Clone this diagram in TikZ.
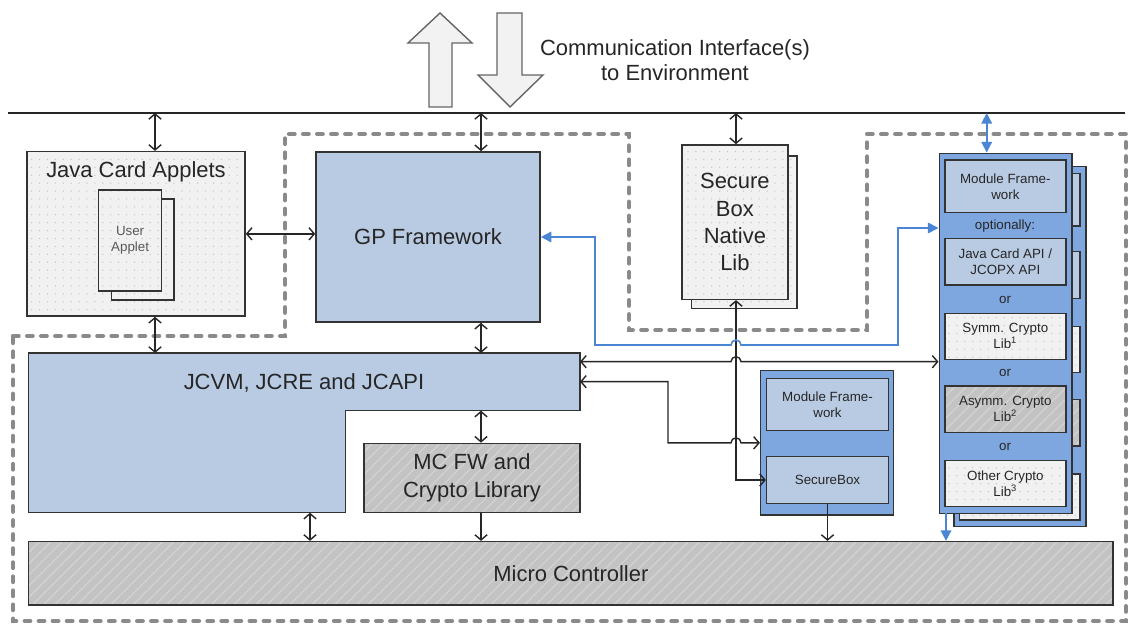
\documentclass[tikz,border=0pt]{standalone}
\usepackage{fontspec}
\setmainfont{Liberation Sans}
\usetikzlibrary{arrows.meta,patterns.meta}
\definecolor{gpblue}{HTML}{B9CBE3}
\definecolor{modblue}{HTML}{7FA7DF}
\definecolor{arrblue}{HTML}{4A86D4}
\definecolor{hatchgray}{HTML}{C3C3C3}
\definecolor{hatchline}{HTML}{D3D3D3}
\definecolor{dotgray}{HTML}{F1F1F1}
\definecolor{dotdark}{HTML}{C4C4C4}
\definecolor{dashgray}{HTML}{8A8A8A}
\newcommand\bigfont{\fontsize{12.5}{15.6}\selectfont}
\newcommand\smallfont{\fontsize{7.6}{9.1}\selectfont}
\tikzset{
  box/.style={draw=black!80, line width=0.9pt, inner sep=0pt, align=center, text=black!85},
  boxsize/.style 2 args={minimum width=#1mm, minimum height=#2mm},
  blu/.style={box, fill=gpblue},
  modbox/.style={box, fill=modblue},
  hatch/.style={box, preaction={fill=hatchgray}, pattern={Lines[angle=45,distance=4.5pt,line width=0.7pt]}, pattern color=hatchline},
  dotbox/.style={box, preaction={fill=dotgray}, pattern={Dots[distance=4.5pt,radius=0.4pt]}, pattern color=dotdark},
  link/.style={draw=black!85, line width=0.8pt, >={Straight Barb[length=3pt,width=7pt]}},
  blink/.style={draw=arrblue, line width=0.9pt, >={Triangle[length=6pt,width=6pt]}},
  border/.style={draw=dashgray, line width=2.4pt, dash pattern=on 3.2pt off 4.8pt, line cap=round},
  blockarrow/.style={fill=black!5, draw=black!60, line width=0.8pt},
}
\begin{document}
\begin{tikzpicture}[x=0.2mm,y=-0.2mm,font=\bigfont]
\useasboundingbox (0,0) rectangle (1130,626);
% secure part of the card
\draw[border] (13,336) -- (285,336) -- (285,134) -- (629,134) -- (629,330) -- (867,330)
  -- (867,134) -- (1126,134) -- (1126,621) -- (13,621) -- cycle;
% interface to the outside
\coordinate (tl) at (8,113);
\coordinate (tr) at (1125,113);
\draw[link] (tl) -- (tr);
\draw[blockarrow] (429,107) -- (429,43) -- (408,43) -- (440,13) -- (472,43) -- (452,43) -- (452,107) -- cycle;
\draw[blockarrow] (497,13) -- (522,13) -- (522,75) -- (543,75) -- (510,107) -- (478,75) -- (497,75) -- cycle;
\node[align=center, text=black!85, font=\fontsize{12.5}{14.3}\selectfont] (comm) at (675,60) {Communication Interface(s)\\to Environment};
\coordinate (t1) at (155,113);
\coordinate (t2) at (481,113);
\coordinate (t3) at (736,113);
\coordinate (t4) at (986.7,113);

% applets
\node[dotbox, boxsize={43.64}{32.86}] (ja) at (135.9,233.85) {};
\node[text=black!85] (jat) at (136,172) {Java Card Applets};
\draw[dotbox] (111.7,199) rectangle (174,300);
\node[dotbox, text=black!65, font=\smallfont, boxsize={12.56}{20.2}] (ua) at (130.1,240.5) {User\\Applet};
\node[blu, boxsize={44.8}{34}] (gp) at (428,237) {GP Framework};

% native lib
\draw[dotbox] (691.6,156) rectangle (797,308.7);
\node[dotbox, boxsize={21.24}{30.86}] (nl) at (734.9,222.15) {Secure\\Box\\Native\\Lib};

% runtime and platform
\coordinate (vmA) at (28.7,353);
\coordinate (vmB) at (580,353);
\coordinate (vmC) at (580,410.7);
\coordinate (vmD) at (345.6,410.7);
\coordinate (vmE) at (345.6,512.7);
\coordinate (vmF) at (28.7,512.7);
\draw[blu] (vmA) -- (vmB) -- (vmC) -- (vmD) -- (vmE) -- (vmF) -- cycle;
\node[text=black!85] (jcvm) at (304,382.7) {JCVM, JCRE and JCAPI};
\node[hatch, boxsize={43.2}{13.88}] (mc) at (472,478) {MC FW and\\Crypto Library};
\node[hatch, boxsize={216.86}{12.66}] (mcu) at (570.85,573.35) {Micro Controller};

% SecureBox module
\node[modbox, boxsize={26.52}{28.86}] (sbo) at (827,442.85) {};
\node[blu, font=\smallfont, boxsize={24.32}{10.48}] (sbm) at (827.5,404.5) {Module Frame-\\work};
\node[blu, font=\smallfont, boxsize={24.32}{9.32}] (sb) at (827.5,480) {SecureBox};

% crypto module column, copy behind
\begin{scope}[shift={(14.5,13.3)}]
  \draw[modbox] (939.3,153.3) rectangle (1071.7,513.3);
  \foreach \ya/\yb/\st in {160/212.7/blu, 238.3/285/blu, 313.3/359.3/dotbox, 386/432.7/hatch, 460.7/506.7/dotbox}
    \draw[\st] (945,\ya) rectangle (1065.7,\yb);
\end{scope}
\node[modbox, boxsize={26.48}{72}] (col) at (1005.5,333.3) {};
\foreach \n/\cy/\h/\st/\txt in {cmf/186.35/10.54/blu/{Module Frame-\\work},
    capi/261.65/9.34/blu/{Java Card API /\\JCOPX API},
    csym/336.3/9.2/dotbox/{Symm. Crypto\\Lib\textsuperscript{1}},
    casym/409.35/9.34/hatch/{Asymm. Crypto\\Lib\textsuperscript{2}},
    coth/483.7/9.2/dotbox/{Other Crypto\\Lib\textsuperscript{3}}}
  \node[\st, font=\smallfont, boxsize={24.14}{\h}] (\n) at (1005.35,\cy) {\txt};
\node[font=\smallfont, text=black!85] (opt) at (1005,226) {optionally:};
\foreach \y/\n in {300/or1, 373.3/or2, 446.7/or3}
  \node[font=\smallfont, text=black!85] (\n) at (1005,\y) {or};

% connectors
\draw[link,<->] (t1) -- (t1 |- ja.north);
\draw[link,<->] (t2) -- (t2 |- gp.north);
\draw[link,<->] (t3) -- (t3 |- nl.north);
\draw[blink,<->] (t4) -- (t4 |- col.north);
\draw[link,<->] (ja.east) -- (ja.east -| gp.west);
\draw[link,<->] (t1 |- ja.south) -- (t1 |- vmA);
\draw[link,<->] (t2 |- gp.south) -- (t2 |- vmA);
\draw[link,<->] (t2 |- vmC) -- (t2 |- mc.north);
\draw[link,->] (t2 |- mc.south) -- (t2 |- mcu.north);
\coordinate (vmG) at (310,512.7);
\draw[link,<->] (vmG) -- (vmG |- mcu.north);
\draw[link,->] (sb.south) -- (sb.south |- mcu.north);
\coordinate (cb) at (946,513.3);
\draw[blink,->] (cb) -- (cb |- mcu.north);
\coordinate (vr1) at (580,361.7);
\coordinate (vr2) at (580,381.7);
\draw[link,<->] (vr1) -- (731,361.7) arc[start angle=180,end angle=360,radius=5] -- (vr1 -| col.west);
\draw[link,<->] (vr2) -- (668,381.7) -- (668,442.8) -- (731,442.8) arc[start angle=180,end angle=360,radius=5] -- (sbo.west);
\draw[link,<->] (t3 |- nl.south) -- (t3 |- sb.west) -- (sb.west);
\coordinate (bl) at (898,228);
\draw[blink,<->] (gp.east) -- (595,237) -- (595,345) -- (731,345) arc[start angle=180,end angle=360,radius=5]
  -- (898,345) -- (bl) -- (bl -| col.west);
\end{tikzpicture}
\end{document}
